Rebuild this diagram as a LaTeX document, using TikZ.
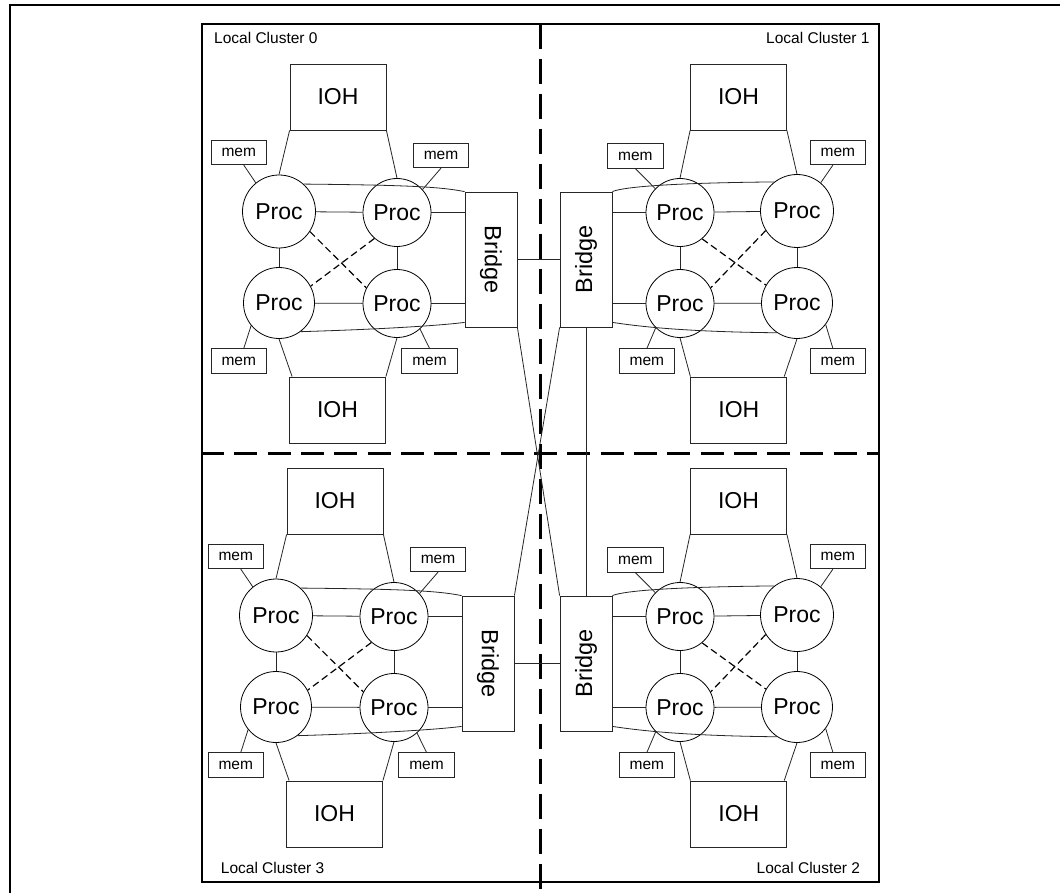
\documentclass[tikz,border=0pt]{standalone}
\usepackage{fontspec}
\usepackage{graphicx}
\setmainfont{Liberation Sans}
\usetikzlibrary{calc}
\tikzset{
  ln/.style={line width=0.8pt, draw=black!85},
  dsh/.style={line width=1.2pt, draw=black, dash pattern=on 7pt off 4pt},
  box/.style={draw=black!85, line width=0.8pt, rectangle, inner sep=0pt},
  ioh/.style={box, minimum width=96pt, minimum height=66pt, font=\fontsize{23}{23}\selectfont},
  mem/.style={box, minimum width=55.5pt, minimum height=24.5pt, font=\fontsize{15.5}{15.5}\selectfont},
  bridgebox/.style={box, minimum width=52pt, minimum height=135pt, font=\fontsize{23.5}{23.5}\selectfont},
  procbase/.style={draw=black, line width=0.8pt, circle, inner sep=0pt, font=\fontsize{23}{23}\selectfont},
  bigproc/.style={procbase, minimum size=73pt},
  midproc/.style={procbase, minimum size=71pt},
  smallproc/.style={procbase, minimum size=68pt},
  clabel/.style={inner sep=0pt, font=\fontsize{15.5}{15.5}\selectfont},
  hdash/.style={line width=3pt, dash pattern=on 23pt off 10.3pt},
  vdash/.style={line width=3pt, dash pattern=on 25pt off 10pt}
}
\newcommand{\leftcluster}[3]{%
\begin{scope}[shift={(#2,#3)}]
\node[ioh] (iot#1) at (338,97) {IOH};
\node[ioh] (iob#1) at (337.5,410) {IOH};
\node[mem] (ma#1) at (238.8,152.5) {mem};
\node[mem] (mb#1) at (441,155.5) {mem};
\node[mem] (mc#1) at (238.8,361) {mem};
\node[mem] (md#1) at (429.5,361) {mem};
\node[bigproc] (pa#1) at (279,211.5) {Proc};
\node[smallproc] (pb#1) at (397,212.5) {Proc};
\node[midproc] (pc#1) at (279,303) {Proc};
\node[smallproc] (pd#1) at (397,303.5) {Proc};
\node[bridgebox] (br#1) at (491,259.5) {\rotatebox{-90}{Bridge}};
\end{scope}
\draw[ln] (iot#1.south west) -- (pa#1.north);
\draw[ln] (iot#1.south east) -- (pb#1.north);
\draw[ln] ([xshift=5pt]ma#1.south) -- (pa#1.129);
\draw[ln] (mb#1.south) -- (pb#1.42);
\draw[ln] ([xshift=5pt]mc#1.north) -- (pc#1.219);
\draw[ln] (md#1.north) -- (pd#1.312);
\draw[ln] (pc#1.south) -- ([xshift=3pt]iob#1.north west);
\draw[ln] (pd#1.south) -- (iob#1.north east);
\draw[ln] (pa#1) -- (pb#1);
\draw[ln] (pa#1) -- (pc#1);
\draw[ln] (pb#1) -- (pd#1);
\draw[ln] (pc#1) -- (pd#1);
\draw[ln] (pb#1.east) -- (pb#1.east -| br#1.west);
\draw[ln] (pd#1.east) -- (pd#1.east -| br#1.west);
\draw[dsh] (pa#1.-33) -- (pd#1.153);
\draw[dsh] (pb#1.229) -- (pc#1.28);
\draw[ln] (pa#1.48) .. controls ($(pa#1.48)+(100,1)$) and ($(br#1.north west)+(-25,-5)$) .. (br#1.north west);
\draw[ln] (pc#1.-53) .. controls ($(pc#1.-53)+(100,-3)$) and ($(br#1.south west)+(-15,-3)$) .. ($(br#1.south west)+(0,-5)$);
}
\newcommand{\rightcluster}[3]{%
\begin{scope}[shift={(#2,#3)}]
\node[ioh] (iot#1) at (738.5,97) {IOH};
\node[ioh] (iob#1) at (738.8,410) {IOH};
\node[mem] (ma#1) at (635.4,156) {mem};
\node[mem] (mb#1) at (837.9,152.5) {mem};
\node[mem] (mc#1) at (646.9,361) {mem};
\node[mem] (md#1) at (837.9,361) {mem};
\node[smallproc] (pa#1) at (680,212.5) {Proc};
\node[bigproc] (pb#1) at (797,211) {Proc};
\node[smallproc] (pc#1) at (680,303.5) {Proc};
\node[midproc] (pd#1) at (797,303) {Proc};
\node[bridgebox] (br#1) at (586,259.5) {\rotatebox{90}{Bridge}};
\end{scope}
\draw[ln] (iot#1.south west) -- (pa#1.north);
\draw[ln] (iot#1.south east) -- (pb#1.north);
\draw[ln] (ma#1.south) -- (pa#1.136);
\draw[ln] ([xshift=-5pt]mb#1.south) -- (pb#1.50);
\draw[ln] (mc#1.north) -- (pc#1.225.7);
\draw[ln] ([xshift=-5pt]md#1.north) -- (pd#1.-37.7);
\draw[ln] (pc#1.south) -- (iob#1.north west);
\draw[ln] (pd#1.south) -- ([xshift=-3pt]iob#1.north east);
\draw[ln] (pa#1) -- (pb#1);
\draw[ln] (pa#1) -- (pc#1);
\draw[ln] (pb#1) -- (pd#1);
\draw[ln] (pc#1) -- (pd#1);
\draw[ln] (pa#1.west -| br#1.east) -- (pa#1.west);
\draw[ln] (pc#1.west -| br#1.east) -- (pc#1.west);
\draw[dsh] (pa#1.-50.5) -- (pd#1.150.8);
\draw[dsh] (pb#1.212.8) -- (pc#1.27.3);
\draw[ln] (br#1.north east) .. controls ($(br#1.north east)+(12,-5)$) and ($(pb#1.128.4)+(-100,1)$) .. (pb#1.128.4);
\draw[ln] ($(br#1.south east)+(0,-5)$) .. controls ($(br#1.south east)+(20,-2)$) and ($(pd#1.236.7)+(-100,-1)$) .. (pd#1.236.7);
}
\begin{document}
\begin{tikzpicture}[x=1pt,y=-1pt]
\clip (0,0) rectangle (1060,893);
\fill[white] (0,0) rectangle (1060,893);
% outer frame (only left and top visible)
\draw[line width=2.2pt] (9.8,920) -- (9.8,5) -- (1080,5);
% inner frame
\draw[line width=1.8pt] (202,24) rectangle (879,882);
% dashed dividers
\draw[vdash] (540,24) -- (540,900);
\draw[hdash] (201,453) -- (879,453);
% labels
\node[clabel, anchor=west] (lc0) at (214,38.3) {Local Cluster 0};
\node[clabel, anchor=east] (lc1) at (869.8,38) {Local Cluster 1};
\node[clabel, anchor=west] (lc3) at (220.7,867.7) {Local Cluster 3};
\node[clabel, anchor=east] (lc2) at (860.3,867.7) {Local Cluster 2};
% clusters
\leftcluster{0}{0}{0}
\rightcluster{1}{0}{0}
\leftcluster{3}{-3}{404}
\rightcluster{2}{0}{404}
% bridge interconnect
\draw[ln] (br0) -- (br1);
\draw[ln] (br3) -- (br2);
\draw[ln] ($(br0.south)+(-1.5,0)$) -- ($(br0.south)+(-1.5,0)$ |- br3.north);
\draw[ln] (br1.south) -- (br2.north);
\draw[ln] (br0.south east) -- (br2.north west);
\draw[ln] (br1.south west) -- (br3.north east);
\end{tikzpicture}
\end{document}
